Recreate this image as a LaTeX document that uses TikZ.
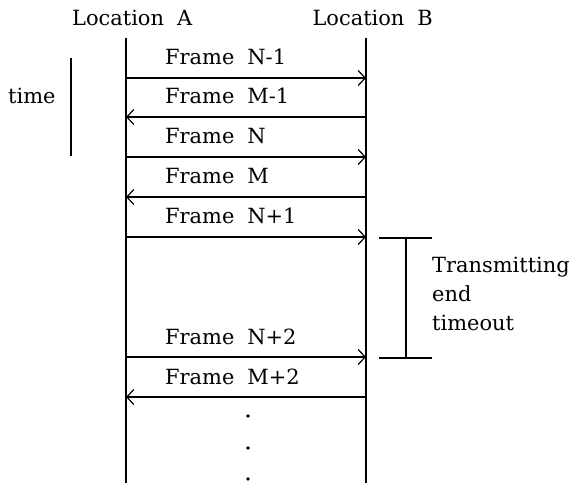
\documentclass[tikz,border=0pt]{standalone}
\usepackage{fontspec}
\setmainfont{DejaVu Serif}
\usetikzlibrary{arrows.meta}
\newcommand{\gp}{\hspace{13bp}}
\begin{document}
\begin{tikzpicture}[x=1bp,y=-1bp,
  txt/.style={font=\fontsize{21}{25}\selectfont, inner sep=0pt},
  lbl/.style={txt, anchor=base west},
  msg/.style={line width=1.4bp, -{Straight Barb[length=7bp,width=15bp,line width=1.2bp]}},
  vline/.style={line width=1.5bp},
  dotnode/.style={circle, fill=black, inner sep=0pt, minimum size=3.8bp}]
\useasboundingbox (0,0) rectangle (576,483);
% headers
\node[txt, anchor=base west] (locA) at (72,26) {Location\gp A};
\node[txt, anchor=base east] (locB) at (433,26) {Location\gp B};
% lifelines
\coordinate (Atop) at (126,38); \coordinate (Abot) at (126,483);
\coordinate (Btop) at (366,38); \coordinate (Bbot) at (366,483);
\draw[vline] (Atop) -- (Abot);
\draw[vline] (Btop) -- (Bbot);
% arrow endpoints
\foreach \n/\y in {1/78,2/117,3/157,4/197,5/237,6/357,7/397}{
  \coordinate (a\n) at (126,\y);
  \coordinate (b\n) at (366,\y);
}
\draw[msg] (a1) -- (b1);
\draw[msg] (b2) -- (a2);
\draw[msg] (a3) -- (b3);
\draw[msg] (b4) -- (a4);
\draw[msg] (a5) -- (b5);
\draw[msg] (a6) -- (b6);
\draw[msg] (b7) -- (a7);
% labels
\node[lbl] (f1) at (165,65) {Frame\gp N-1};
\node[lbl] (f2) at (165,104) {Frame\gp M-1};
\node[lbl] (f3) at (165,144) {Frame\gp N};
\node[lbl] (f4) at (165,184) {Frame\gp M};
\node[lbl] (f5) at (165,224) {Frame\gp N+1};
\node[lbl] (f6) at (165,344) {Frame\gp N+2};
\node[lbl] (f7) at (165,384) {Frame\gp M+2};
% time bar
\coordinate (t1) at (71,58); \coordinate (t2) at (71,156);
\draw[vline] (t1) -- (t2);
\node[txt, anchor=base west] (time) at (8,104) {time};
% timeout bracket
\coordinate (u1) at (379,238); \coordinate (u2) at (432,238);
\coordinate (d1) at (379,358); \coordinate (d2) at (432,358);
\coordinate (um) at (406,238); \coordinate (dm) at (406,358);
\draw[line width=1.2bp] (u1) -- (u2);
\draw[line width=1.2bp] (d1) -- (d2);
\draw[line width=1.4bp] (um) -- (dm);
\node[txt, anchor=base west] (tout1) at (432,272) {Transmitting};
\node[txt, anchor=base west] (tout2) at (432,301) {end};
\node[txt, anchor=base west] (tout3) at (432,330) {timeout};
% dots
\node[dotnode] (p1) at (248,416) {};
\node[dotnode] (p2) at (248,448) {};
\node[dotnode] (p3) at (248,479) {};
\end{tikzpicture}
\end{document}
